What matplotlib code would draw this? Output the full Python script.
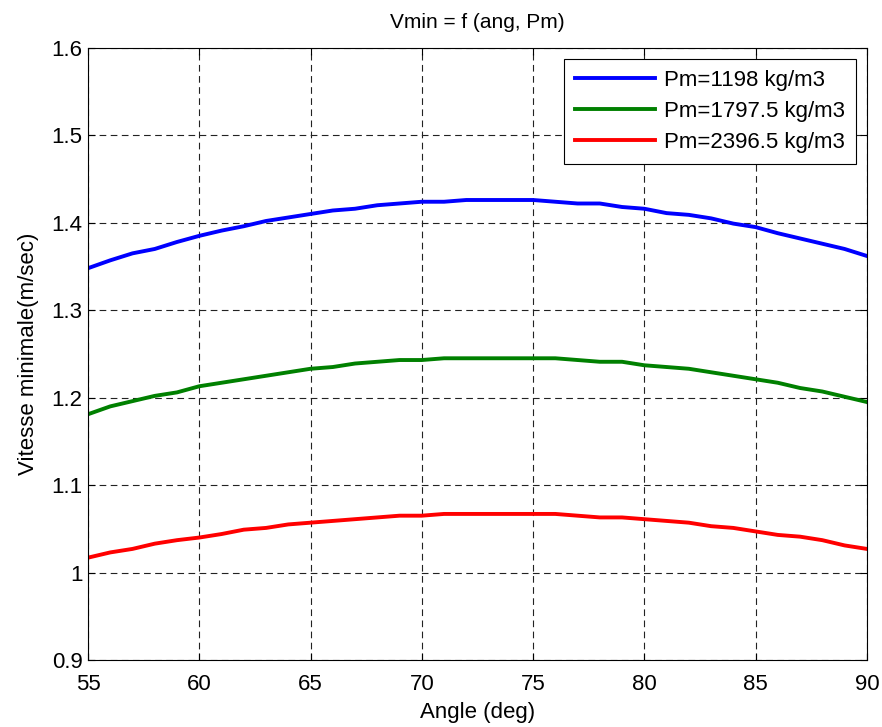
import matplotlib.pyplot as plt

plt.rcParams['font.family'] = ['Liberation Sans', 'DejaVu Sans']

# Angle (deg)
angles = list(range(55, 91))

# Vitesse minimale (m/sec) for each Pm
v_1198 = [1.348, 1.357, 1.365, 1.370, 1.378, 1.385, 1.391, 1.396, 1.402, 1.406,
          1.410, 1.414, 1.416, 1.420, 1.422, 1.424, 1.424, 1.426, 1.426, 1.426,
          1.426, 1.424, 1.422, 1.422, 1.418, 1.416, 1.411, 1.409, 1.405, 1.399,
          1.395, 1.388, 1.382, 1.376, 1.370, 1.362]
v_1797 = [1.181, 1.190, 1.196, 1.202, 1.206, 1.213, 1.217, 1.221, 1.225, 1.229,
          1.233, 1.235, 1.239, 1.241, 1.243, 1.243, 1.245, 1.245, 1.245, 1.245,
          1.245, 1.245, 1.243, 1.241, 1.241, 1.237, 1.235, 1.233, 1.229, 1.225,
          1.221, 1.217, 1.211, 1.207, 1.201, 1.195]
v_2396 = [1.017, 1.023, 1.027, 1.033, 1.037, 1.040, 1.044, 1.049, 1.051, 1.055,
          1.057, 1.059, 1.061, 1.063, 1.065, 1.065, 1.067, 1.067, 1.067, 1.067,
          1.067, 1.067, 1.065, 1.063, 1.063, 1.061, 1.059, 1.057, 1.053, 1.051,
          1.047, 1.043, 1.041, 1.037, 1.031, 1.027]

labels = ["Pm=1198 kg/m3", "Pm=1797.5 kg/m3", "Pm=2396.5 kg/m3"]

fs = 16

fig = plt.figure(figsize=(8.82, 7.27), dpi=100)
ax = fig.add_axes([0.0998, 0.0922, 0.883, 0.842])

ax.plot(angles, v_1198, color="#0000ff", lw=2.8, label=labels[0])
ax.plot(angles, v_1797, color="#008000", lw=2.8, label=labels[1])
ax.plot(angles, v_2396, color="#ff0000", lw=2.8, label=labels[2])

ax.set_xlim(55, 90)
ax.set_ylim(0.9, 1.6)
ax.set_xticks(range(55, 91, 5))
ax.set_yticks([0.9, 1.0, 1.1, 1.2, 1.3, 1.4, 1.5, 1.6])
ax.set_yticklabels(["0.9", "1", "1.1", "1.2", "1.3", "1.4", "1.5", "1.6"])
ax.tick_params(direction="in", top=True, right=True, labelsize=fs, length=5)
ax.tick_params(axis="x", pad=10)
ax.tick_params(axis="y", pad=4)
ax.grid(True, color="#222222", linestyle=(0, (6, 4)), linewidth=0.8)

ax.set_xlabel("Angle (deg)", fontsize=fs, labelpad=5)
ax.set_ylabel("Vitesse minimale(m/sec)", fontsize=fs, labelpad=9)
ax.set_title("Vmin = f (ang, Pm)", fontsize=15, pad=14)

leg = ax.legend(loc="upper right", fontsize=fs, fancybox=False, framealpha=1,
                edgecolor="black", handlelength=3.6, handletextpad=0.4,
                borderaxespad=0.5, borderpad=0.5, labelspacing=0.45)
leg.get_frame().set_linewidth(0.8)

fig.savefig("out.png", dpi=100)
